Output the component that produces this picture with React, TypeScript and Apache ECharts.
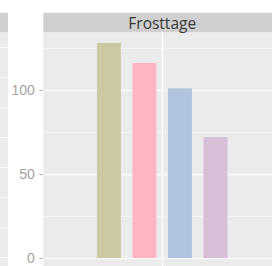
import React, { useEffect, useRef } from "react";
import * as echarts from "echarts";

const categories = ["Frosttage"];
const seriesNames = ["A", "B", "C", "D"];
const seriesValues = [128, 116, 101, 72];
const seriesColors = ["#cbc9a2", "#ffb6c1", "#b0c4de", "#d8bfd8"];
const majorTicks = [0, 50, 100];
const stripTitle = "Frosttage";

const W = 272;
const H = 266;
const PANEL_LEFT = 43.3;
const PANEL_TOP = 32.3;
const STRIP_TOP = 12.7;
const ZERO_Y = 258;
const UNIT_PX = 1.68;
const CENTER_X = 162.2;

export default function App() {
  const ref = useRef<HTMLDivElement>(null);
  useEffect(() => {
    if (!ref.current) return;
    const chart = echarts.init(ref.current, undefined, { renderer: "svg" });
    const yMax = (ZERO_Y - PANEL_TOP) / UNIT_PX;
    const gridRight = W - (CENTER_X + (CENTER_X - PANEL_LEFT));
    const font = "Liberation Sans, Arial, sans-serif";
    const option: any = {
      animation: false,
      backgroundColor: "#ffffff",
      grid: [
        {
          left: PANEL_LEFT,
          right: gridRight,
          top: PANEL_TOP,
          bottom: H - ZERO_Y,
          outerBoundsMode: "none",
          containLabel: false,
        },
        {
          left: PANEL_LEFT,
          right: gridRight,
          top: PANEL_TOP,
          bottom: 0,
          outerBoundsMode: "none",
          containLabel: false,
        },
        {
          left: 0,
          width: 8,
          top: PANEL_TOP,
          bottom: 9,
          outerBoundsMode: "none",
          containLabel: false,
        },
      ],
      xAxis: [
        {
          type: "category",
          gridIndex: 0,
          data: categories,
          axisLine: { show: false },
          axisTick: { show: false },
          axisLabel: { show: false },
          splitLine: { show: false },
        },
        {
          type: "value",
          gridIndex: 1,
          min: 0,
          max: 2,
          interval: 1,
          axisLine: { show: false },
          axisTick: { show: false },
          axisLabel: { show: false },
          splitLine: {
            show: true,
            showMinLine: false,
            showMaxLine: false,
            lineStyle: { color: "#ffffff", width: 1.4 },
          },
        },
        {
          type: "value",
          gridIndex: 2,
          min: 0,
          max: 1,
          axisLine: { show: false },
          axisTick: { show: false },
          axisLabel: { show: false },
          splitLine: { show: false },
        },
      ],
      yAxis: [
        {
          type: "value",
          gridIndex: 0,
          min: 0,
          max: yMax,
          interval: 50,
          axisLine: { show: false },
          axisTick: {
            show: true,
            inside: false,
            length: 4,
            lineStyle: { color: "#b3b3b3", width: 1 },
          },
          axisLabel: {
            show: true,
            margin: 8.5,
            color: "#a3a3a3",
            fontSize: 14,
            fontFamily: font,
            showMaxLabel: false,
            formatter: (v: number) => (majorTicks.includes(v) ? String(v) : ""),
          },
          splitLine: {
            show: true,
            showMaxLine: false,
            lineStyle: { color: "#ffffff", width: 1.4 },
          },
        },
        {
          type: "value",
          gridIndex: 0,
          min: 0,
          max: yMax,
          interval: 25,
          axisLine: { show: false },
          axisTick: { show: false },
          axisLabel: { show: false },
          splitLine: {
            show: true,
            showMaxLine: false,
            lineStyle: { color: "#f7f7f7", width: 0.8 },
          },
        },
        {
          type: "value",
          gridIndex: 1,
          min: 0,
          max: 1,
          axisLine: { show: false },
          axisTick: { show: false },
          axisLabel: { show: false },
          splitLine: { show: false },
        },
        {
          type: "value",
          gridIndex: 2,
          min: 0,
          max: 7.5,
          interval: 1,
          axisLine: { show: false },
          axisTick: { show: false },
          axisLabel: { show: false },
          splitLine: {
            show: true,
            showMaxLine: false,
            lineStyle: { color: "#f7f7f7", width: 1 },
          },
        },
      ],
      graphic: [
        {
          type: "rect",
          z: -10,
          shape: { x: PANEL_LEFT, y: PANEL_TOP, width: W - PANEL_LEFT, height: H - PANEL_TOP },
          style: { fill: "#ebebeb" },
          silent: true,
        },
        {
          type: "rect",
          z: -10,
          shape: { x: 0, y: PANEL_TOP, width: 8, height: H - PANEL_TOP },
          style: { fill: "#ebebeb" },
          silent: true,
        },
        {
          type: "rect",
          z: -10,
          shape: { x: PANEL_LEFT, y: STRIP_TOP, width: W - PANEL_LEFT, height: PANEL_TOP - STRIP_TOP },
          style: { fill: "#d0d0d0" },
          silent: true,
        },
        {
          type: "rect",
          z: -10,
          shape: { x: 0, y: STRIP_TOP, width: 8, height: PANEL_TOP - STRIP_TOP },
          style: { fill: "#d0d0d0" },
          silent: true,
        },
        {
          type: "text",
          z: 10,
          x: CENTER_X,
          y: (STRIP_TOP + PANEL_TOP) / 2 + 0.5,
          style: {
            text: stripTitle,
            fill: "#383838",
            font: `15.5px "Open Sans", sans-serif`,
            textAlign: "center",
            textVerticalAlign: "middle",
          },
          silent: true,
        },
      ],
      series: seriesValues.map((v, i) => ({
        type: "bar",
        name: seriesNames[i],
        xAxisIndex: 0,
        yAxisIndex: 0,
        data: [v],
        barWidth: 24,
        barGap: "48%",
        itemStyle: { color: seriesColors[i] },
        z: 5,
      })),
    };
    chart.setOption(option);
    return () => chart.dispose();
  }, []);
  return (
    <div
      ref={ref}
      style={{ position: "fixed", left: 0, top: 0, width: W, height: H }}
    />
  );
}
